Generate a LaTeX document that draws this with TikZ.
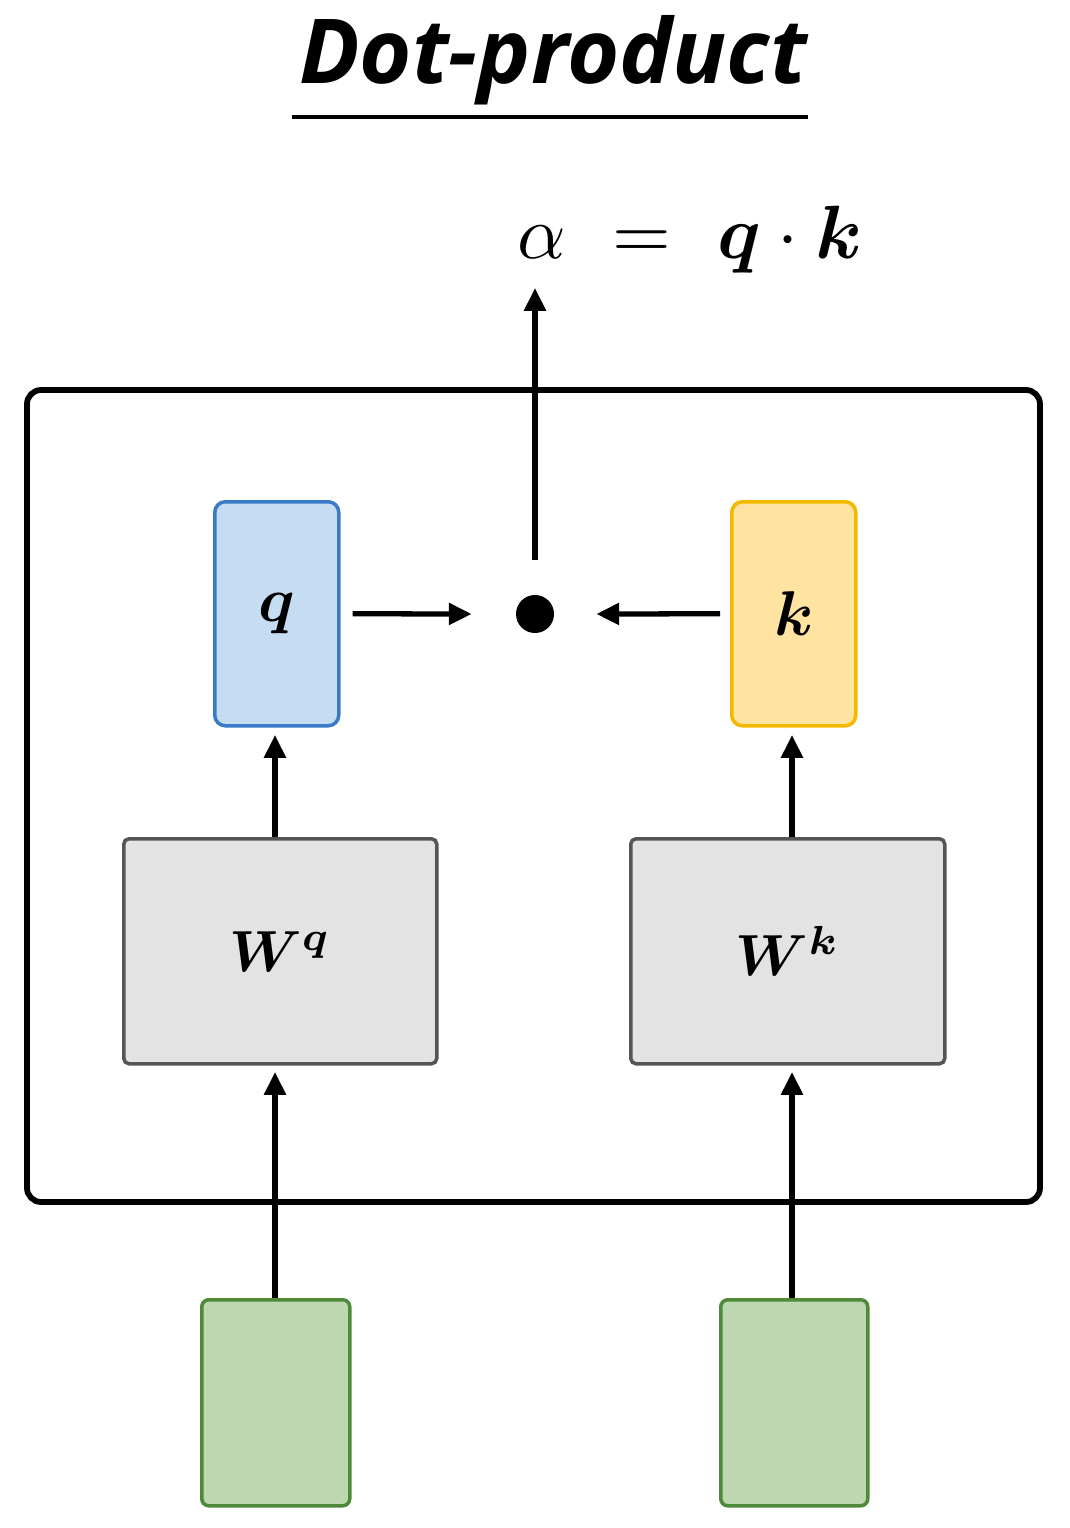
\documentclass[tikz,border=0pt]{standalone}
\usepackage{fontspec}
\usepackage{bm}
\newfontfamily\titlefont{Open Sans}
\definecolor{qfill}{HTML}{C6DCF3}\definecolor{qdraw}{HTML}{3A7BC8}
\definecolor{kfill}{HTML}{FFE3A0}\definecolor{kdraw}{HTML}{F5B800}
\definecolor{wfill}{HTML}{E3E3E3}\definecolor{wdraw}{HTML}{555555}
\definecolor{gfill}{HTML}{BDD7B0}\definecolor{gdraw}{HTML}{4E8A3A}
\usetikzlibrary{arrows.meta}
\begin{document}
\begin{tikzpicture}[x=0.02cm,y=-0.02cm,
  box/.style={rounded corners=6pt,line width=2pt,anchor=north west,inner sep=0},
  arr/.style={line width=3pt,-{Triangle[length=13pt,width=12pt]}}]
\useasboundingbox (0,0) rectangle (1070,1528);
\node[font=\titlefont\bfseries\itshape\fontsize{51}{58}\selectfont] (title) at (553,60) {Dot-product};
\draw[line width=2.2pt] (292,117) -- (808,117);
\node (eq) at (690,240) {\scalebox{4.3}{$\alpha\ =\ \bm{q}\cdot\bm{k}$}};
\draw[line width=3.3pt,rounded corners=8pt] (27,390) rectangle (1040,1202);
\node[box,fill=qfill,draw=qdraw,minimum width=124*0.02cm,minimum height=224*0.02cm] (q) at (213,500) {};
\node at (q.center) {\scalebox{3.6}{$\bm{q}$}};
\node[box,fill=kfill,draw=kdraw,minimum width=124*0.02cm,minimum height=224*0.02cm] (k) at (730,500) {};
\node at (k.center) {\scalebox{3.6}{$\bm{k}$}};
\node[circle,fill=black,minimum size=38*0.02cm,inner sep=0] (dot) at (535,614) {};
\coordinate (top) at (535,288);
\draw[arr] (535,560) -- (top);
\draw[arr] ([xshift=12*0.02cm]q.east) -- ([xshift=-44*0.02cm]dot.west);
\draw[arr] ([xshift=-10*0.02cm]k.west) -- ([xshift=42*0.02cm]dot.east);
\node[box,fill=wfill,draw=wdraw,rounded corners=3pt,minimum width=313*0.02cm,minimum height=225*0.02cm] (wq) at (122,837) {};
\node at (wq.center) {\scalebox{3.3}{$\bm{W}^{\bm{q}}$}};
\node[box,fill=wfill,draw=wdraw,rounded corners=3pt,minimum width=314*0.02cm,minimum height=225*0.02cm] (wk) at (629,837) {};
\node at (wk.center) {\scalebox{3.3}{$\bm{W}^{\bm{k}}$}};
\draw[arr] (275,837) -- (275,735);
\draw[arr] (792,837) -- (792,735);
\node[box,fill=gfill,draw=gdraw,rounded corners=4pt,minimum width=148*0.02cm,minimum height=206*0.02cm] (g1) at (200,1298) {};
\node[box,fill=gfill,draw=gdraw,rounded corners=4pt,minimum width=147*0.02cm,minimum height=206*0.02cm] (g2) at (719,1298) {};
\draw[arr] (275,1298) -- (275,1072);
\draw[arr] (792,1298) -- (792,1072);
\end{tikzpicture}
\end{document}
